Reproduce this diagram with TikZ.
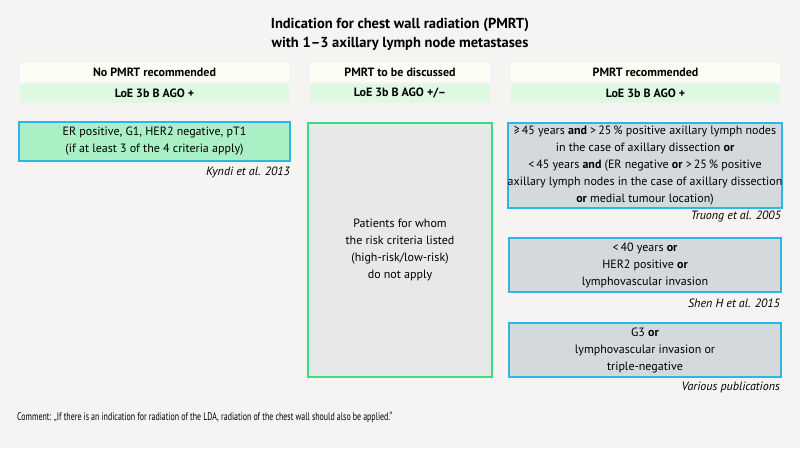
\documentclass[tikz,border=0pt]{standalone}
\usepackage{fontspec}
\setmainfont{PT Sans}
\newfontfamily\narrowfont[FakeStretch=0.72]{PT Sans}
\usepackage{tikz}
\usetikzlibrary{positioning}

\definecolor{bgcol}{HTML}{F5F4F2}
\definecolor{headcol}{HTML}{FDFDF6}
\definecolor{loecol}{HTML}{DEF8E2}
\definecolor{lowcol}{HTML}{A9F0C5}
\definecolor{cyancol}{HTML}{2DB5E6}
\definecolor{midcol}{HTML}{E6E8EA}
\definecolor{midedge}{HTML}{3DDC84}
\definecolor{highcol}{HTML}{D4D9DB}

\begin{document}
\begin{tikzpicture}[x=1pt,y=-1pt,
	txt/.style={font=\fontsize{12}{17}\selectfont, align=center, inner sep=0pt},
	head/.style={txt, font=\fontsize{12}{17}\selectfont\bfseries, fill=headcol, minimum height=19pt},
	loe/.style={head, fill=loecol},
	crit/.style={txt, draw=cyancol, line width=1.8pt},
	cite/.style={font=\fontsize{12}{17}\selectfont\itshape, inner sep=0pt, anchor=east}]
	\fill [bgcol] (0,0) rectangle (800,448);
	\useasboundingbox (0,0) rectangle (800,448);
	
	\node [txt, font=\fontsize{14.5}{19}\selectfont\bfseries] (title) at (400,34.5) {Indication for chest wall radiation (PMRT)\\with 1--3 axillary lymph node metastases};
	
	% headers
	\node [head, minimum width=269pt] (h1) at (154.5,72.5) {No PMRT recommended};
	\node [head, minimum width=180pt] (h2) at (400,72.5) {PMRT to be discussed};
	\node [head, minimum width=269pt] (h3) at (645.5,72.5) {PMRT recommended};
	\node [loe, minimum width=269pt] (l1) at (154.5,93.5) {LoE 3b B AGO +};
	\node [loe, minimum width=180pt] (l2) at (400,93.5) {LoE 3b B AGO +/--};
	\node [loe, minimum width=269pt] (l3) at (645.5,93.5) {LoE 3b B AGO +};
	
	% criteria
	\node [crit, fill=lowcol, minimum width=271pt, minimum height=39pt] (low) at (154.5,141.5) {ER positive, G1, HER2 negative, pT1\\(if at least 3 of the 4 criteria apply)};
	\node [cite] (kyndi) at (290,172) {Kyndi et al. 2013};
	
	\node [txt, draw=midedge, line width=1.8pt, fill=midcol, minimum width=184pt, minimum height=254pt] (mid) at (400,250) {Patients for whom\\the risk criteria listed\\(high-risk/low-risk)\\do not apply};
	
	\node [crit, fill=highcol, minimum width=272pt, minimum height=85pt] (high1) at (645,165.5) {≥\,45 years \textbf{and} >\,25\,\% positive axillary lymph nodes\\in the case of axillary dissection \textbf{or}\\<\,45 years \textbf{and} (ER negative \textbf{or} >\,25\,\% positive\\axillary lymph nodes in the case of axillary dissection\\\textbf{or} medial tumour location)};
	\node [cite] (truong) at (781,216) {Truong et al. 2005};
	
	\node [crit, fill=highcol, minimum width=272pt, minimum height=54pt] (high2) at (645,265) {<\,40 years \textbf{or}\\HER2 positive \textbf{or}\\lymphovascular invasion};
	\node [cite] (shen) at (780,303) {Shen H et al. 2015};
	
	\node [crit, fill=highcol, minimum width=272pt, minimum height=54pt] (high3) at (645,350) {G3 \textbf{or}\\lymphovascular invasion or\\triple-negative};
	\node [cite] (various) at (780,387) {Various publications};
	
	\node [inner sep=0pt, anchor=west, font=\fontsize{11}{13}\narrowfont] (comment) at (17,417) {Comment: „If there is an indication for radiation of the LDA, radiation of the chest wall should also be applied.“};
\end{tikzpicture}
\end{document}
